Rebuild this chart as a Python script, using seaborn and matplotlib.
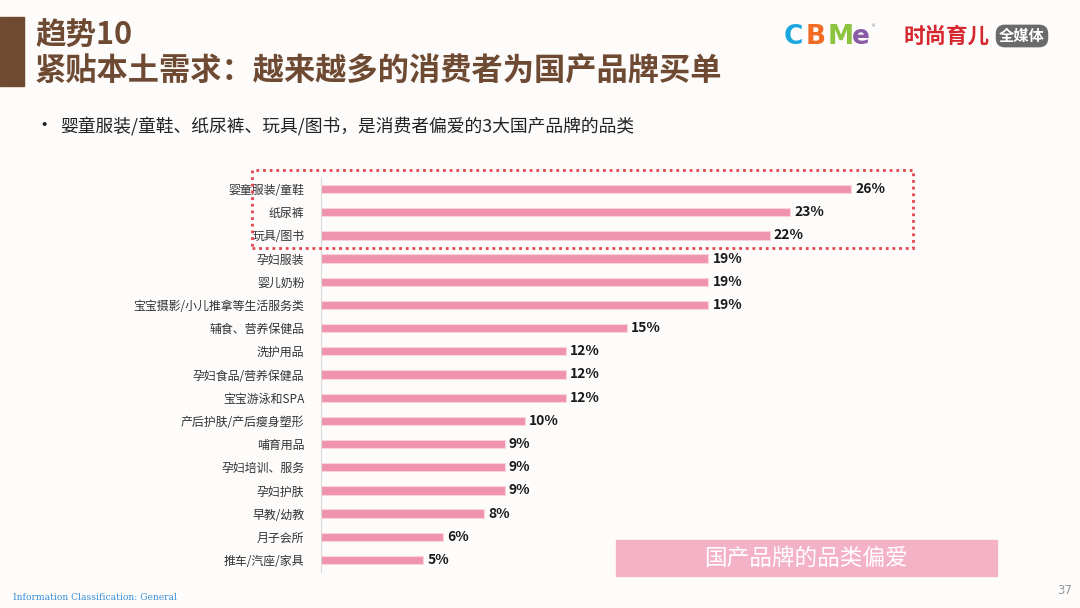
import matplotlib
matplotlib.use('Agg')
import matplotlib.pyplot as plt
import seaborn as sns
import pandas as pd
from matplotlib.patches import Rectangle

categories = ["婴童服装/童鞋", "纸尿裤", "玩具/图书", "孕妇服装", "婴儿奶粉",
              "宝宝摄影/小儿推拿等生活服务类", "辅食、营养保健品", "洗护用品",
              "孕妇食品/营养保健品", "宝宝游泳和SPA", "产后护肤/产后瘦身塑形",
              "哺育用品", "孕妇培训、服务", "孕妇护肤", "早教/幼教", "月子会所",
              "推车/汽座/家具"]
values = [26, 23, 22, 19, 19, 19, 15, 12, 12, 12, 10, 9, 9, 9, 8, 6, 5]
value_labels = [f"{v}%" for v in values]

title_line1 = "趋势10"
title_line2 = "紧贴本土需求：越来越多的消费者为国产品牌买单"
subtitle = "婴童服装/童鞋、纸尿裤、玩具/图书，是消费者偏爱的3大国产品牌的品类"
box_text = "国产品牌的品类偏爱"
footer = "Information Classification: General"
page_no = "37"

BG = "#FDFCFB"
BROWN = "#6E4A33"
PINK = "#F093AF"

sns.set_theme(style="white")
plt.rcParams['font.family'] = ['Noto Sans CJK SC', 'DejaVu Sans']

W, H = 1080, 608
fig = plt.figure(figsize=(10.8, 6.08), dpi=100, facecolor=BG)


def fx(x):
    return x / W


def fy(y):
    return 1 - y / H


# ---- chart axes ----
step = (560 - 189) / 16
top = 189 - step / 2
bottom = 560 + step / 2
ax = fig.add_axes([fx(321), fy(bottom), (1000 - 321) / W, (bottom - top) / H])
ax.set_facecolor("none")
df = pd.DataFrame({"cat": categories, "val": values})
sns.barplot(data=df, x="val", y="cat", orient="h", color=PINK, saturation=1,
            width=0.36, edgecolor="#FAD3DF", linewidth=0.8, ax=ax)
ax.set_xlim(0, 33.3)
ax.set_ylim(len(categories) - 0.5, -0.5)
ax.set_xticks([])
ax.set_xlabel("")
ax.set_ylabel("")
for s in ["top", "right", "bottom"]:
    ax.spines[s].set_visible(False)
ax.spines["left"].set_color("#D9D9D9")
ax.spines["left"].set_linewidth(0.8)
ax.tick_params(axis="y", length=0, pad=12, labelsize=8.6, labelcolor="#333333")
ax.bar_label(ax.containers[0], labels=value_labels, padding=3, fontsize=10,
             fontweight="bold", color="#1A1A1A")

# ---- dotted highlight box ----
fig.patches.append(Rectangle((fx(252), fy(248)), (913 - 252) / W, (248 - 170) / H,
                             transform=fig.transFigure, fill=False,
                             edgecolor="#E5434D", linewidth=2.0,
                             linestyle=(0, (1, 1.4))))

# ---- title area ----
fig.patches.append(Rectangle((0, fy(86)), 24 / W, (86 - 17) / H,
                             transform=fig.transFigure, color=BROWN))
fig.text(fx(35), fy(36), title_line1, fontsize=22, fontweight="bold",
         color=BROWN, va="center", ha="left")
fig.text(fx(35), fy(72), title_line2, fontsize=22.5, fontweight="bold",
         color=BROWN, va="center", ha="left")
fig.text(fx(34), fy(125), "•", fontsize=14, color="#222222", va="center")
fig.text(fx(60), fy(126), subtitle, fontsize=12.8, color="#222222", va="center")

# ---- logos ----
cbme = [("C", "#1BA6E0", 784), ("B", "#F26B22", 806), ("M", "#8CC43F", 828), ("e", "#8A5CA8", 852)]
for ch, col, x in cbme:
    fig.text(fx(x), fy(37), ch, fontsize=19, fontweight="heavy", color=col,
             va="center", ha="left", family=["DejaVu Sans"])
fig.text(fx(872), fy(27), "®", fontsize=5, color="#888888", va="center")
fig.text(fx(904), fy(36), "时尚育儿", fontsize=15.5, fontweight="bold",
         color="#D6262E", va="center", ha="left")
fig.text(fx(1022), fy(36), "全媒体", fontsize=11, fontweight="bold",
         color="white", va="center", ha="center",
         bbox=dict(boxstyle="round,pad=0.22,rounding_size=0.6",
                   facecolor="#6A6A6A", edgecolor="none"))

# ---- pink label box ----
fig.patches.append(Rectangle((fx(616), fy(576)), (997 - 616) / W, (576 - 540) / H,
                             transform=fig.transFigure, color="#F4B2C7"))
fig.text(fx(806), fy(558), box_text, fontsize=16.3, color="white",
         va="center", ha="center")

# ---- footer ----
fig.text(fx(13), fy(598), footer, fontsize=6.6, color="#3A8FD9",
         va="center", ha="left", family=["DejaVu Serif"])
fig.text(fx(1072), fy(591), page_no, fontsize=8.5, color="#999999",
         va="center", ha="right", family=["DejaVu Sans"])

fig.savefig("out.png", dpi=100, facecolor=BG)
